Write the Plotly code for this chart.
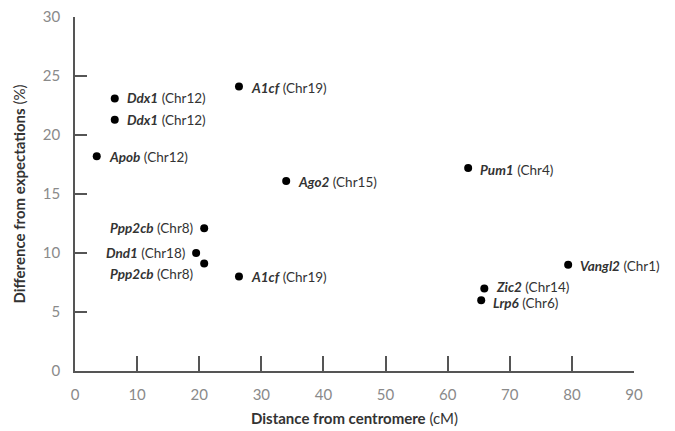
import plotly.graph_objects as go

# Data
genes = ["Ddx1", "Ddx1", "Apob", "A1cf", "Ago2", "Pum1", "Ppp2cb", "Dnd1",
         "Ppp2cb", "A1cf", "Vangl2", "Zic2", "Lrp6"]
chroms = ["Chr12", "Chr12", "Chr12", "Chr19", "Chr15", "Chr4", "Chr8", "Chr18",
          "Chr8", "Chr19", "Chr1", "Chr14", "Chr6"]
distance_cM = [6.4, 6.4, 3.5, 26.4, 34.0, 63.3, 20.8, 19.5, 20.8, 26.4, 79.4, 65.9, 65.4]
difference_pct = [23.1, 21.3, 18.2, 24.1, 16.1, 17.2, 12.1, 10.0, 9.1, 8.0, 9.0, 7.0, 6.0]

x_ticks = [0, 10, 20, 30, 40, 50, 60, 70, 80, 90]
y_ticks = [0, 5, 10, 15, 20, 25, 30]

# label placement (style only)
label_side = ["right", "right", "right", "right", "right", "right", "left", "left",
              "left", "right", "right", "right", "right"]
label_dy = [0, 0, -1, -1, -1, -2, 0, 0, -10, 0, -1, 1, -3]

FONT = "Lato, 'Open Sans', sans-serif"

fig = go.Figure()
fig.add_trace(go.Scatter(
    x=distance_cM, y=difference_pct, mode="markers",
    marker=dict(color="black", size=8), showlegend=False, hoverinfo="skip"))

for g, c, x, y, side, dy in zip(genes, chroms, distance_cM, difference_pct, label_side, label_dy):
    fig.add_annotation(
        x=x, y=y, xref="x", yref="y", showarrow=False,
        text=f"<b><i>{g}</i></b> ({c})",
        xanchor="left" if side == "right" else "right",
        xshift=10 if side == "right" else -9, yshift=dy,
        font=dict(family=FONT, size=13.5, color="#333333"))

axis_common = dict(showgrid=False, zeroline=False, showline=True, automargin=False,
                   linecolor="#555555", linewidth=1.5, ticks="inside",
                   tickcolor="#555555", tickwidth=1.5, ticklabeloverflow="allow",
                   tickfont=dict(family=FONT, size=15, color="#8a8a8a"))

fig.update_xaxes(range=[0, 90], tickvals=x_ticks, ticklen=15, ticklabelstandoff=9,
                 title=dict(text="<b>Distance from centromere</b> (cM)",
                            font=dict(family=FONT, size=15, color="#333333"),
                            standoff=12),
                 **axis_common)
fig.update_yaxes(range=[0, 30], tickvals=y_ticks, ticklen=12, ticklabelstandoff=10,
                 title=dict(text="<b>Difference from expectations</b> (%)",
                            font=dict(family=FONT, size=15, color="#333333"),
                            standoff=14),
                 **axis_common)

# page body has an 8px margin, so the figure is sized/margined to compensate
fig.update_layout(width=667, height=423, margin=dict(l=67, r=41, t=9, b=60),
                  plot_bgcolor="white", paper_bgcolor="white")
fig.write_html("out.html")
